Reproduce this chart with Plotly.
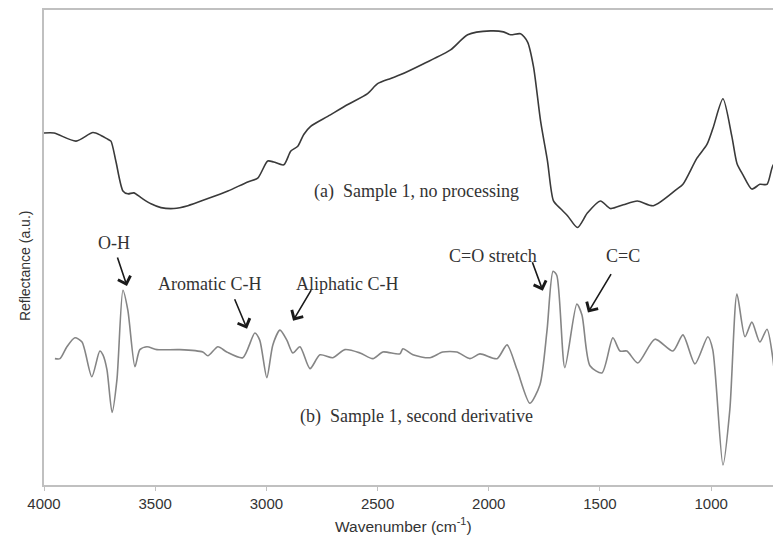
import plotly.graph_objects as go

# ---- data ----
wavenumber_a = [4000, 3955, 3856, 3780, 3744, 3713, 3699, 3677, 3645, 3623,
                3596, 3564, 3519, 3474, 3416, 3353, 3263, 3173, 3084, 3039,
                2994, 2967, 2922, 2890, 2859, 2832, 2801, 2724, 2634, 2545,
                2500, 2441, 2396, 2293, 2172, 2095, 1992, 1934, 1902, 1857,
                1826, 1799, 1767, 1736, 1709, 1678, 1646, 1601, 1556, 1498,
                1453, 1395, 1332, 1260, 1154, 1127, 1064, 1019, 992, 947,
                907, 884, 857, 817, 781, 749, 722, 691]
reflectance_a = [74.1, 74.1, 72.4, 74.2, 73.6, 72.8, 72.4, 68.2, 61.9, 61.3,
                 61.5, 60.5, 59.2, 58.4, 58.2, 58.8, 60.3, 61.9, 63.8, 64.6,
                 68.2, 68.0, 67.4, 70.3, 71.3, 73.8, 75.5, 77.6, 80.1, 82.4,
                 84.5, 85.6, 86.4, 88.7, 91.6, 94.8, 95.6, 95.4, 94.8, 95.0,
                 93.3, 88.1, 76.6, 68.2, 59.8, 58.2, 56.7, 54.2, 57.3, 59.8,
                 58.2, 59.0, 59.8, 58.8, 62.3, 63.3, 68.8, 71.7, 75.1, 81.3,
                 73.4, 67.7, 65.3, 62.3, 63.3, 63.3, 67.3, 68.6]

wavenumber_b = [3951, 3928, 3897, 3861, 3829, 3785, 3749, 3735, 3717, 3694,
                3672, 3645, 3623, 3591, 3569, 3537, 3492, 3389, 3286, 3263,
                3218, 3178, 3106, 3052, 3030, 2998, 2971, 2939, 2908, 2881,
                2849, 2804, 2759, 2701, 2647, 2579, 2521, 2476, 2400, 2386,
                2341, 2265, 2207, 2144, 2085, 2040, 1963, 1918, 1873, 1815,
                1770, 1738, 1711, 1694, 1658, 1604, 1581, 1545, 1491, 1442,
                1410, 1379, 1330, 1253, 1172, 1127, 1073, 1015, 993, 947,
                916, 884, 848, 817, 781, 749, 722, 691]
reflectance_b = [26.6, 26.6, 29.1, 31.0, 30.1, 22.8, 28.2, 27.4, 24.3, 15.3,
                 22.2, 41.0, 36.8, 24.9, 28.5, 29.1, 28.5, 28.5, 28.0, 27.2,
                 29.1, 28.0, 26.8, 32.0, 30.5, 22.6, 29.5, 32.6, 30.5, 27.8,
                 29.1, 24.5, 27.4, 26.8, 28.5, 27.8, 26.6, 28.0, 27.6, 28.7,
                 27.4, 26.8, 28.0, 28.0, 26.6, 27.6, 26.6, 29.5, 24.3, 17.2,
                 21.1, 32.6, 45.0, 44.1, 24.7, 38.1, 35.8, 25.1, 23.6, 31.0,
                 28.2, 28.2, 25.7, 30.7, 28.2, 31.6, 25.5, 31.2, 28.5, 4.2,
                 15.9, 40.2, 31.2, 34.3, 30.1, 32.8, 26.4, 7.5]

tick_values = [4000, 3500, 3000, 2500, 2000, 1500, 1000]
tick_labels = ["4000", "3500", "3000", "2500", "2000", "1500", "1000"]

# band labels: text, label position, arrow head position, arrow tail offset (px)
band_labels = ["O-H", "Aromatic C-H", "Aliphatic C-H", "C=O stretch", "C=C"]
band_label_x = [3685, 3254, 2638, 1981, 1397]
band_label_y = [50.9, 42.3, 42.3, 48.2, 48.2]
arrow_head_x = [3627, 3087, 2880, 1757, 1554]
arrow_head_y = [41.9, 32.9, 34.6, 40.9, 36.3]
arrow_tail_dx = [-10, -13, 19, -11, 24]
arrow_tail_dy = [-30, -31, -32, -30, -40]

serif = "Liberation Serif, Times New Roman, serif"
sans = "Liberation Sans, Arial, sans-serif"

fig = go.Figure()
fig.add_trace(go.Scatter(x=wavenumber_a, y=reflectance_a, mode="lines",
                         line=dict(color="#3a3a3a", width=1.6, shape="spline", smoothing=0.7),
                         showlegend=False))
fig.add_trace(go.Scatter(x=wavenumber_b, y=reflectance_b, mode="lines",
                         line=dict(color="#858585", width=1.6, shape="spline", smoothing=0.7),
                         showlegend=False))

annotations = []
annotations.append(dict(x=2795, y=61.8, xref="x", yref="y", text="(a)  Sample 1, no processing",
                        showarrow=False, xanchor="left", yanchor="middle",
                        font=dict(family=serif, size=18, color="#333333")))
annotations.append(dict(x=2858, y=14.5, xref="x", yref="y", text="(b)  Sample 1, second derivative",
                        showarrow=False, xanchor="left", yanchor="middle",
                        font=dict(family=serif, size=18, color="#333333")))
for t, lx, ly, hx, hy, dx, dy in zip(band_labels, band_label_x, band_label_y,
                                     arrow_head_x, arrow_head_y, arrow_tail_dx, arrow_tail_dy):
    annotations.append(dict(x=lx, y=ly, xref="x", yref="y", text=t, showarrow=False,
                            xanchor="center", yanchor="middle",
                            font=dict(family=serif, size=18, color="#333333")))
    annotations.append(dict(x=hx, y=hy, xref="x", yref="y", text="", showarrow=True,
                            ax=dx, ay=dy, arrowhead=4, arrowsize=1.6, arrowwidth=1.6,
                            arrowcolor="#1a1a1a"))

annotations.append(dict(x=-0.0258, y=0.463, xref="paper", yref="paper",
                        text="Reflectance (a.u.)", textangle=-90, showarrow=False,
                        xanchor="center", yanchor="middle",
                        font=dict(family=sans, size=14, color="#333333")))
annotations.append(dict(x=0.488, y=-0.084, xref="paper", yref="paper",
                        text="Wavenumber (cm<sup>-1</sup>)", showarrow=False,
                        xanchor="center", yanchor="middle",
                        font=dict(family=sans, size=15.5, color="#333333")))

# the page body has an 8 px margin, so the figure is 8 px smaller and its
# margins 8 px tighter on the left/top to keep the plot area where it belongs
fig.update_layout(
    width=773, height=528,
    margin=dict(l=36, r=0, t=0, b=51),
    paper_bgcolor="white", plot_bgcolor="white",
    annotations=annotations,
    xaxis=dict(range=[4000, 686], tickvals=tick_values, ticktext=tick_labels,
               showgrid=False, zeroline=False, showline=True, linecolor="#c0c0c0",
               linewidth=1.5, mirror=True, ticks="outside", ticklen=4, tickcolor="#c0c0c0",
               tickfont=dict(family=sans, size=15, color="#333333")),
    yaxis=dict(range=[0, 100], showgrid=False, zeroline=False, showline=True,
               linecolor="#c0c0c0", linewidth=1.5, showticklabels=False, ticks=""),
)

fig.write_html("out.html")
